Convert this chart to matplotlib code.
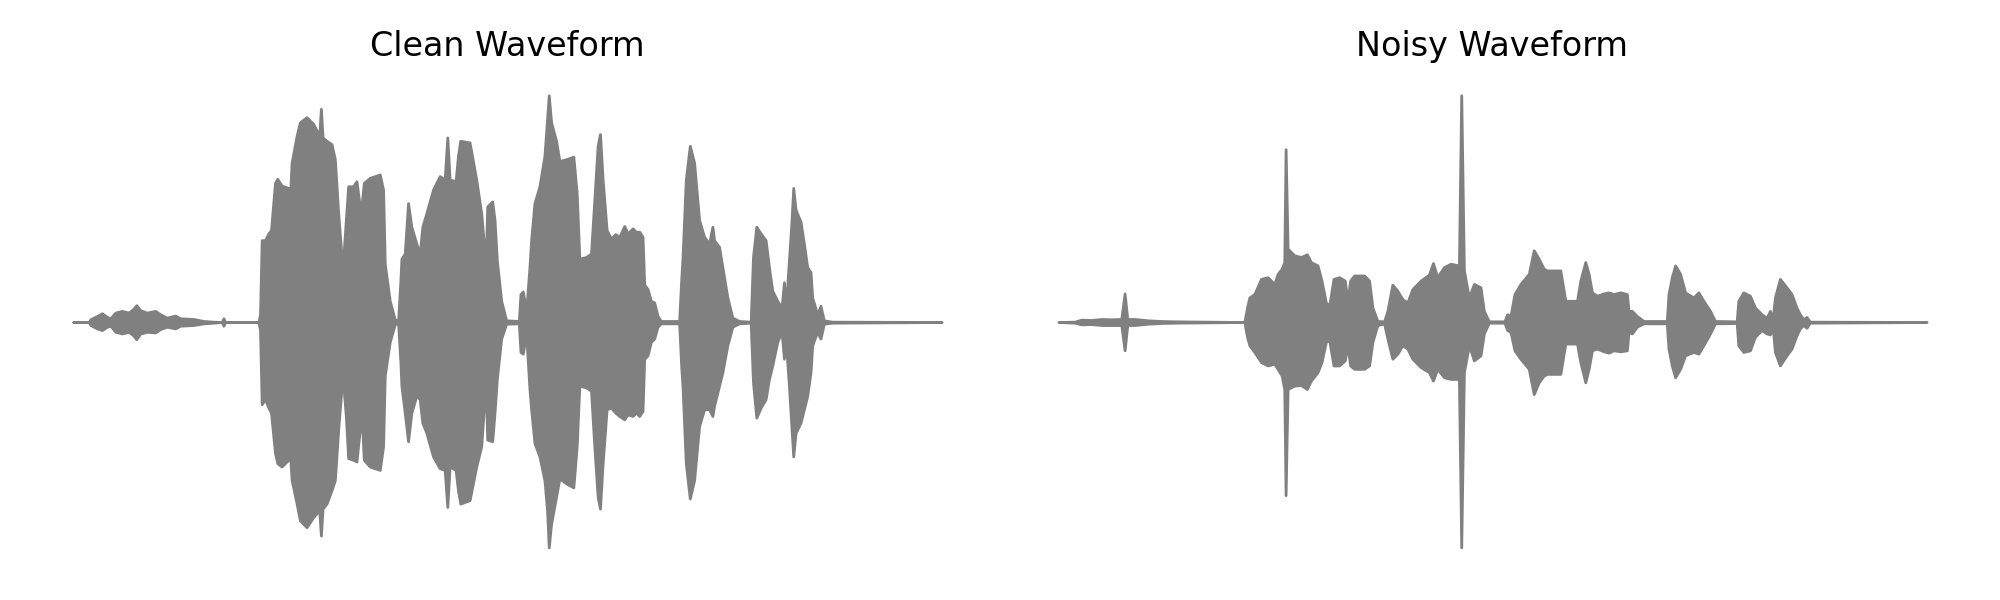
import matplotlib
matplotlib.use("Agg")
import matplotlib.pyplot as plt
import numpy as np

# ---- Clean waveform envelope (time in s, upper / lower amplitude) ----
clean_t = [0.000, 0.046, 0.051, 0.071, 0.086, 0.101, 0.111, 0.126, 0.146, 0.166, 0.179, 0.189, 0.201, 0.221,
           0.246, 0.261, 0.281, 0.306, 0.321, 0.361, 0.391, 0.421, 0.446, 0.451, 0.456, 0.556,
           0.561, 0.566, 0.576, 0.586, 0.594, 0.606, 0.613, 0.626, 0.646, 0.651, 0.656, 0.671, 0.681, 0.701,
           0.721, 0.739, 0.744, 0.749, 0.761, 0.776, 0.786, 0.796, 0.809, 0.819, 0.826, 0.841, 0.851, 0.861,
           0.866, 0.873, 0.891, 0.921, 0.931, 0.936, 0.951, 0.966, 0.976, 0.983, 0.986, 0.996, 1.006, 1.016,
           1.031, 1.041, 1.049, 1.061, 1.081, 1.101, 1.116, 1.124, 1.131, 1.149, 1.156, 1.163, 1.191, 1.211,
           1.226, 1.233, 1.239, 1.244, 1.259, 1.266, 1.273, 1.286, 1.301, 1.339, 1.344, 1.351, 1.361, 1.371,
           1.376, 1.386, 1.401, 1.416, 1.424, 1.429, 1.436, 1.451, 1.461, 1.481, 1.503, 1.513, 1.521, 1.541,
           1.556, 1.566, 1.576, 1.583, 1.591, 1.603, 1.616, 1.629, 1.641, 1.656, 1.666, 1.681, 1.691, 1.701,
           1.711, 1.716, 1.726, 1.736, 1.746, 1.756, 1.766, 1.821, 1.827, 1.831, 1.841, 1.853, 1.866, 1.881,
           1.896, 1.911, 1.921, 1.926, 1.941, 1.951, 1.966, 1.981, 2.001, 2.036, 2.043, 2.053, 2.066, 2.081,
           2.091, 2.101, 2.116, 2.129, 2.136, 2.141, 2.151, 2.159, 2.164, 2.171, 2.186, 2.196, 2.206, 2.216,
           2.221, 2.236, 2.246, 2.256, 2.281, 2.610]
clean_hi = [0.000, 0.000, 0.008, 0.018, 0.026, 0.015, 0.011, 0.028, 0.033, 0.028, 0.038, 0.050, 0.035, 0.028,
            0.033, 0.023, 0.013, 0.019, 0.011, 0.009, 0.003, 0.001, 0.000, 0.011, 0.000, 0.000,
            0.023, 0.243, 0.243, 0.263, 0.273, 0.413, 0.425, 0.405, 0.398, 0.373, 0.473, 0.553, 0.593, 0.608,
            0.588, 0.553, 0.633, 0.548, 0.538, 0.528, 0.483, 0.323, 0.158, 0.303, 0.403, 0.403, 0.418, 0.343,
            0.343, 0.413, 0.428, 0.438, 0.393, 0.173, 0.063, 0.008, 0.003, 0.123, 0.188, 0.203, 0.353, 0.283,
            0.233, 0.203, 0.283, 0.323, 0.393, 0.433, 0.423, 0.548, 0.423, 0.418, 0.493, 0.538, 0.533, 0.423,
            0.323, 0.243, 0.163, 0.343, 0.358, 0.303, 0.183, 0.063, 0.005, 0.003, 0.083, 0.091, 0.033, 0.163,
            0.243, 0.353, 0.403, 0.493, 0.603, 0.673, 0.593, 0.538, 0.478, 0.483, 0.491, 0.383, 0.188, 0.193,
            0.203, 0.363, 0.523, 0.558, 0.423, 0.273, 0.248, 0.261, 0.253, 0.285, 0.263, 0.278, 0.268, 0.268,
            0.253, 0.111, 0.098, 0.063, 0.058, 0.018, 0.003, 0.003, 0.123, 0.188, 0.423, 0.523, 0.473, 0.303,
            0.253, 0.233, 0.283, 0.243, 0.223, 0.163, 0.073, 0.013, 0.003, 0.001, 0.193, 0.283, 0.263, 0.243,
            0.163, 0.093, 0.063, 0.043, 0.118, 0.033, 0.183, 0.303, 0.398, 0.333, 0.298, 0.233, 0.163, 0.148,
            0.073, 0.023, 0.048, 0.005, 0.001, 0.000]
clean_lo = [0.000, 0.000, -0.009, -0.019, -0.024, -0.014, -0.011, -0.029, -0.034, -0.029, -0.039, -0.051, -0.034, -0.029,
            -0.031, -0.021, -0.014, -0.019, -0.011, -0.009, -0.004, -0.002, 0.000, -0.011, 0.000, 0.000,
            -0.024, -0.244, -0.229, -0.254, -0.269, -0.389, -0.419, -0.429, -0.409, -0.389, -0.469, -0.539, -0.589, -0.609,
            -0.579, -0.559, -0.634, -0.554, -0.539, -0.499, -0.469, -0.319, -0.159, -0.279, -0.404, -0.409, -0.414, -0.319,
            -0.269, -0.409, -0.429, -0.439, -0.369, -0.159, -0.059, -0.007, -0.002, -0.119, -0.189, -0.269, -0.354, -0.269,
            -0.219, -0.229, -0.299, -0.329, -0.399, -0.434, -0.439, -0.549, -0.429, -0.439, -0.499, -0.539, -0.529, -0.429,
            -0.369, -0.269, -0.169, -0.349, -0.354, -0.269, -0.169, -0.049, -0.005, -0.004, -0.089, -0.094, -0.034, -0.199,
            -0.259, -0.359, -0.399, -0.469, -0.559, -0.669, -0.599, -0.519, -0.464, -0.479, -0.491, -0.369, -0.189, -0.194,
            -0.204, -0.369, -0.519, -0.554, -0.419, -0.259, -0.254, -0.269, -0.279, -0.289, -0.274, -0.279, -0.269, -0.279,
            -0.264, -0.109, -0.099, -0.059, -0.049, -0.014, -0.004, -0.004, -0.129, -0.189, -0.419, -0.524, -0.469, -0.309,
            -0.259, -0.259, -0.279, -0.249, -0.189, -0.149, -0.069, -0.014, -0.004, -0.002, -0.179, -0.284, -0.254, -0.229,
            -0.169, -0.129, -0.059, -0.029, -0.109, -0.049, -0.189, -0.319, -0.399, -0.329, -0.299, -0.259, -0.219, -0.149,
            -0.069, -0.029, -0.049, -0.005, -0.002, 0.000]

# ---- Noisy waveform envelope ----
noisy_t = [0.000, 0.049, 0.069, 0.099, 0.129, 0.159, 0.189, 0.199, 0.207, 0.229, 0.269, 0.309, 0.349, 0.449, 0.559,
           0.567, 0.574, 0.589, 0.609, 0.629, 0.649, 0.659, 0.671, 0.679, 0.683, 0.689, 0.709, 0.729, 0.747,
           0.759, 0.779, 0.791, 0.804, 0.814, 0.827, 0.844, 0.861, 0.869, 0.877, 0.889, 0.919, 0.934, 0.944,
           0.959, 0.979, 0.989, 1.004, 1.019, 1.034, 1.049, 1.064, 1.089, 1.114, 1.126, 1.139, 1.159, 1.179,
           1.204, 1.211, 1.219, 1.234, 1.249, 1.269, 1.279, 1.294, 1.341, 1.349, 1.359, 1.371, 1.389, 1.414,
           1.429, 1.444, 1.459, 1.469, 1.509, 1.524, 1.559, 1.569, 1.584, 1.594, 1.604, 1.619, 1.639, 1.654,
           1.669, 1.689, 1.709, 1.714, 1.724, 1.739, 1.759, 1.829, 1.834, 1.844, 1.854, 1.869, 1.884, 1.909,
           1.924, 1.939, 1.959, 1.974, 2.039, 2.044, 2.059, 2.079, 2.094, 2.114, 2.129, 2.139, 2.147, 2.154,
           2.169, 2.189, 2.204, 2.219, 2.229, 2.239, 2.249, 2.259, 2.610]
noisy_hi = [0.000, 0.001, 0.007, 0.006, 0.009, 0.008, 0.009, 0.085, 0.009, 0.009, 0.005, 0.003, 0.002, 0.001, 0.000,
            0.043, 0.073, 0.083, 0.128, 0.133, 0.113, 0.143, 0.158, 0.178, 0.513, 0.218, 0.198, 0.193, 0.201,
            0.178, 0.168, 0.123, 0.058, 0.048, 0.128, 0.133, 0.123, 0.063, 0.123, 0.138, 0.138, 0.123, 0.043,
            0.003, 0.002, 0.033, 0.111, 0.093, 0.068, 0.058, 0.098, 0.123, 0.141, 0.175, 0.133, 0.163, 0.173,
            0.168, 0.673, 0.153, 0.073, 0.113, 0.103, 0.033, 0.002, 0.002, 0.023, 0.018, 0.083, 0.113, 0.143,
            0.213, 0.188, 0.158, 0.153, 0.153, 0.063, 0.063, 0.123, 0.178, 0.143, 0.088, 0.078, 0.085, 0.088,
            0.083, 0.088, 0.083, 0.033, 0.033, 0.018, 0.003, 0.003, 0.083, 0.133, 0.168, 0.143, 0.088, 0.073,
            0.088, 0.063, 0.033, 0.003, 0.002, 0.063, 0.088, 0.078, 0.043, 0.023, 0.013, 0.033, 0.008, 0.073,
            0.128, 0.103, 0.083, 0.043, 0.023, 0.008, 0.015, 0.001, 0.000]
noisy_lo = [0.000, -0.002, -0.007, -0.006, -0.009, -0.009, -0.009, -0.084, -0.009, -0.009, -0.005, -0.003, -0.002, -0.001, 0.000,
            -0.044, -0.069, -0.089, -0.119, -0.129, -0.124, -0.139, -0.159, -0.199, -0.514, -0.199, -0.189, -0.187, -0.199,
            -0.174, -0.149, -0.119, -0.059, -0.054, -0.129, -0.129, -0.114, -0.069, -0.129, -0.139, -0.139, -0.129, -0.059,
            -0.009, -0.004, -0.049, -0.109, -0.094, -0.069, -0.079, -0.109, -0.134, -0.149, -0.174, -0.139, -0.164, -0.169,
            -0.169, -0.669, -0.149, -0.069, -0.114, -0.099, -0.034, -0.002, -0.002, -0.024, -0.029, -0.084, -0.109, -0.139,
            -0.214, -0.179, -0.159, -0.154, -0.154, -0.064, -0.064, -0.119, -0.179, -0.139, -0.084, -0.079, -0.087, -0.091,
            -0.084, -0.087, -0.084, -0.029, -0.034, -0.014, -0.004, -0.004, -0.079, -0.129, -0.164, -0.139, -0.099, -0.089,
            -0.094, -0.069, -0.034, -0.004, -0.003, -0.069, -0.089, -0.084, -0.044, -0.024, -0.034, -0.037, -0.014, -0.089,
            -0.129, -0.099, -0.079, -0.039, -0.019, -0.009, -0.017, -0.002, 0.000]

titles = ["Clean Waveform", "Noisy Waveform"]
series = [(clean_t, clean_hi, clean_lo), (noisy_t, noisy_hi, noisy_lo)]

fig, axes = plt.subplots(1, 2, figsize=(10, 3), dpi=200)
for ax, title, (t, hi, lo) in zip(axes, titles, series):
    poly = ax.fill_between(np.array(t), np.array(lo), np.array(hi),
                           facecolor="gray", edgecolor="gray", linewidth=1.0)
    poly.set_joinstyle("round")
    poly.set_capstyle("round")
    ax.set_title(title, fontsize=12)
    ax.axis("off")

fig.tight_layout()
fig.savefig("out.png", dpi=200)
